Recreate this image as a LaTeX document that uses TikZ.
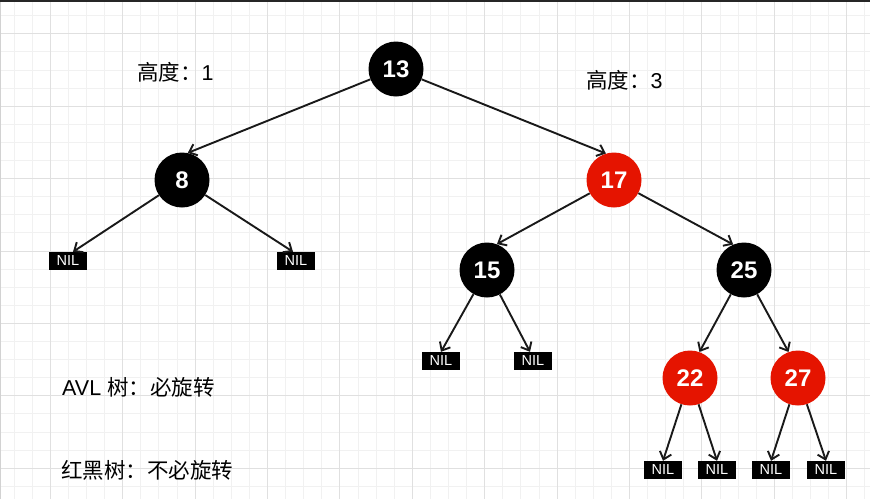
\documentclass[tikz,border=0pt]{standalone}
\usepackage{fontspec}
\setmainfont{Liberation Sans}
\newfontfamily\cjk{Noto Sans CJK SC}
\usetikzlibrary{arrows.meta}
\definecolor{rbred}{HTML}{E51400}
\definecolor{gridminor}{HTML}{F1F1F1}
\definecolor{gridmajor}{HTML}{E0E0E0}

\begin{document}
\begin{tikzpicture}[x=1pt,y=-1pt,
  blacknode/.style={circle,fill=black,minimum size=55pt,inner sep=0pt,text=white,font=\fontsize{24}{24}\selectfont\bfseries},
  rednode/.style={blacknode,fill=rbred},
  nilbox/.style={fill=black,minimum width=38pt,minimum height=18pt,inner sep=0pt,text=white,font=\fontsize{14.5}{14.5}\selectfont},
  link/.style={-{Straight Barb[length=7pt,width=12pt,line width=1.9pt]},line width=1.9pt,black!90},
  note/.style={anchor=west,inner sep=0pt,font=\fontsize{21.5}{21.5}\selectfont}]
\useasboundingbox (0,0) rectangle (870,499);
\fill[white] (0,0) rectangle (870,499);

% grid
\foreach \k in {-2,...,45}
  \draw[gridminor] (50+18.1*\k,0) -- (50+18.1*\k,499);
\foreach \k in {-1,...,25}
  \draw[gridminor] (0,33.5+18.1*\k) -- (870,33.5+18.1*\k);
\foreach \k in {0,...,11}
  \draw[gridmajor] (50+72.4*\k,0) -- (50+72.4*\k,499);
\foreach \k in {0,...,6}
  \draw[gridmajor] (0,33.5+72.4*\k) -- (870,33.5+72.4*\k);
\draw[gray!35] (0.5,0) -- (0.5,499);
\draw[line width=2.5pt,black!85] (0,1.2) -- (870,1.2);

% tree
\node[blacknode] (n13) at (396,69) {13};
\node[blacknode] (n8) at (182,180) {8};
\node[rednode] (n17) at (614,180) {17};
\node[blacknode] (n15) at (487,270) {15};
\node[blacknode] (n25) at (744,270) {25};
\node[rednode] (n22) at (690,378) {22};
\node[rednode] (n27) at (798,378) {27};

\node[nilbox] (nilA) at (68,261) {NIL};
\node[nilbox] (nilB) at (296,261) {NIL};
\node[nilbox] (nilC) at (441,361) {NIL};
\node[nilbox] (nilD) at (533,361) {NIL};
\node[nilbox] (nilE) at (663,470) {NIL};
\node[nilbox] (nilF) at (717,470) {NIL};
\node[nilbox] (nilG) at (771,470) {NIL};
\node[nilbox] (nilH) at (826,470) {NIL};

\draw[link] (n13) -- (n8.78);
\draw[link] (n13) -- (n17.107);
\draw[link] (n8) -- ([xshift=5pt]nilA.north);
\draw[link] (n8) -- ([xshift=-3pt]nilB.north);
\draw[link] (n17) -- (n15.69);
\draw[link] (n17) -- (n25.113);
\draw[link] (n15) -- (nilC.north);
\draw[link] (n15) -- ([xshift=-3pt]nilD.north);
\draw[link] (n25) -- (n22.70);
\draw[link] (n25) -- (n27.110);
\draw[link] (n22) -- (nilE.north);
\draw[link] (n22) -- (nilF.north);
\draw[link] (n27) -- (nilG.north);
\draw[link] (n27) -- (nilH.north);

% notes
\node[note] (hleft) at (137,72) {{\cjk 高度：}1};
\node[note] (hright) at (586,80) {{\cjk 高度：}3};
\node[note] (avl) at (62,387) {AVL {\cjk 树：必旋转}};
\node[note] (rbt) at (61,470) {{\cjk 红黑树：不必旋转}};
\end{tikzpicture}
\end{document}
